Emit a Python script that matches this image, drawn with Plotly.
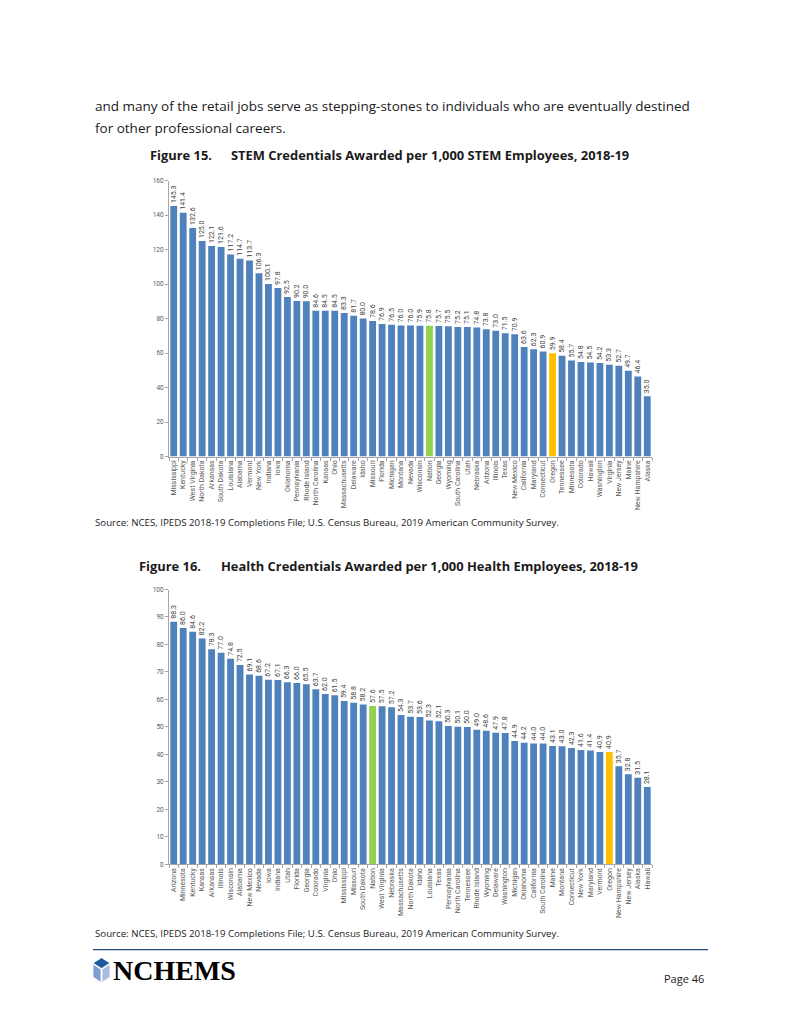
import plotly.graph_objects as go

W, H = 800, 1035
OFF = 8  # browser body margin
def px(x): return (x - OFF) / W
def py(y): return 1 - (y - OFF) / H

# ---------------- Data ----------------
stem_states = ["Mississippi", "Kentucky", "West Virginia", "North Dakota", "Arkansas", "South Dakota",
               "Louisiana", "Alabama", "Vermont", "New York", "Indiana", "Iowa", "Oklahoma",
               "Pennsylvania", "Rhode Island", "North Carolina", "Kansas", "Ohio", "Massachusetts",
               "Delaware", "Idaho", "Missouri", "Florida", "Michigan", "Montana", "Nevada",
               "Wisconsin", "Nation", "Georgia", "Wyoming", "South Carolina", "Utah", "Nebraska",
               "Arizona", "Illinois", "Texas", "New Mexico", "California", "Maryland", "Connecticut",
               "Oregon", "Tennessee", "Minnesota", "Colorado", "Hawaii", "Washington", "Virginia",
               "New Jersey", "Maine", "New Hampshire", "Alaska"]
stem_values = [145.3, 141.4, 132.6, 125.0, 122.1, 121.6, 117.2, 114.7, 113.7, 106.3, 100.1, 97.8, 92.5,
               90.2, 90.0, 84.6, 84.5, 84.5, 83.3, 81.7, 80.0, 78.6, 76.9, 76.5, 76.0, 76.0,
               75.9, 75.8, 75.7, 75.5, 75.2, 75.1, 74.8, 73.8, 73.0, 71.5, 70.9, 63.6, 62.3, 60.9,
               59.9, 58.4, 55.7, 54.8, 54.5, 54.2, 53.3, 52.7, 49.7, 46.4, 35.0]

health_states = ["Arizona", "Minnesota", "Kentucky", "Kansas", "Arkansas", "Illinois", "Wisconsin",
                 "Alabama", "New Mexico", "Nevada", "Iowa", "Indiana", "Utah", "Florida", "Georgia",
                 "Colorado", "Virginia", "Ohio", "Mississippi", "Missouri", "South Dakota", "Nation",
                 "West Virginia", "Nebraska", "Massachusetts", "North Dakota", "Idaho", "Louisiana",
                 "Texas", "Pennsylvania", "North Carolina", "Tennessee", "Rhode Island", "Wyoming",
                 "Delaware", "Washington", "Michigan", "Oklahoma", "California", "South Carolina",
                 "Maine", "Montana", "Connecticut", "New York", "Maryland", "Vermont", "Oregon",
                 "New Hampshire", "New Jersey", "Alaska", "Hawaii"]
health_values = [88.3, 86.0, 84.6, 82.2, 78.3, 77.0, 74.8, 72.5, 69.1, 68.6, 67.2, 67.1, 66.3, 66.0, 65.5,
                 63.7, 62.0, 61.5, 59.4, 58.8, 58.2, 57.6, 57.5, 57.2, 54.3, 53.7, 53.6, 52.3,
                 52.1, 50.3, 50.1, 50.0, 49.0, 48.6, 47.9, 47.8, 44.9, 44.2, 44.0, 44.0,
                 43.1, 43.0, 42.3, 41.6, 41.4, 40.9, 40.9, 35.7, 32.8, 31.5, 28.1]

stem_ticks = [0, 20, 40, 60, 80, 100, 120, 140, 160]
health_ticks = [0, 10, 20, 30, 40, 50, 60, 70, 80, 90, 100]

BLUE, GREEN, ORANGE = "#4F81BD", "#92D050", "#FFC000"
def colors(states):
    return [GREEN if s == "Nation" else ORANGE if s == "Oregon" else BLUE for s in states]

CHART_FONT = "Liberation Sans Narrow, Roboto, sans-serif"
TEXT_FONT = "Open Sans, Noto Sans, sans-serif"

fig = go.Figure()
for states, values, xa, ya in [(stem_states, stem_values, "x", "y"),
                               (health_states, health_values, "x2", "y2")]:
    fig.add_trace(go.Bar(
        x=states, y=values, xaxis=xa, yaxis=ya,
        marker=dict(color=colors(states), line=dict(width=0)),
        text=[f"{v:.1f}" for v in values], textposition="outside", textangle=-90,
        constraintext="none", cliponaxis=False,
        textfont=dict(size=7, color="#404040", family=CHART_FONT),
        hoverinfo="x+y", showlegend=False))

xcommon = dict(type="category", showline=True, linecolor="#A6A6A6", linewidth=1,
               ticks="outside", tickson="boundaries", ticklen=3, tickcolor="#A6A6A6",
               tickangle=-90, tickfont=dict(size=7, color="#595959", family=CHART_FONT),
               showgrid=False, domain=[px(169), px(652)], range=[-0.5, 50.5], fixedrange=True)
ycommon = dict(showline=True, linecolor="#A6A6A6", linewidth=1, ticks="outside", ticklen=3,
               tickcolor="#A6A6A6", showgrid=False, zeroline=False,
               tickfont=dict(size=6.5, color="#595959", family=CHART_FONT), fixedrange=True)

fig.update_layout(
    width=W, height=H, autosize=False, margin=dict(l=0, r=0, t=0, b=0),
    paper_bgcolor="white", plot_bgcolor="white", bargap=0.28,
    xaxis=dict(**xcommon, anchor="y"),
    yaxis=dict(**ycommon, anchor="x", domain=[py(456), py(178)], range=[0, 160],
               tickvals=stem_ticks),
    xaxis2=dict(**xcommon, anchor="y2"),
    yaxis2=dict(**ycommon, anchor="x2", domain=[py(867), py(590)], range=[0, 100],
                tickvals=health_ticks),
)

def note(text, x, y, size, bold=False, anchor="left", family=TEXT_FONT, color="#1a1a1a"):
    fig.add_annotation(text=f"<b>{text}</b>" if bold else text, x=px(x), y=py(y),
                       xref="paper", yref="paper", xanchor=anchor, yanchor="middle",
                       showarrow=False, font=dict(size=size, family=family, color=color))

note("and many of the retail jobs serve as stepping-stones to individuals who are eventually destined",
     93, 103, 13.5)
note("for other professional careers.", 93, 125, 13.5)
note("Figure 15.", 148, 152, 12.9, bold=True)
note("STEM Credentials Awarded per 1,000 STEM Employees, 2018-19", 229, 152, 12.9, bold=True)
src = "Source: NCES, IPEDS 2018-19 Completions File; U.S. Census Bureau, 2019 American Community Survey."
note(src, 93, 522, 9.7)
note("Figure 16.", 137, 566, 12.9, bold=True)
note("Health Credentials Awarded per 1,000 Health Employees, 2018-19", 219, 566, 12.9, bold=True)
note(src, 93, 937, 9.7)
note("Page 46", 706, 982, 11, anchor="right")
note("NCHEMS", 111, 974, 28, bold=True, family="Liberation Serif, serif", color="#000000")

# footer rule
fig.add_shape(type="line", xref="paper", yref="paper", x0=px(93), x1=px(708), y0=py(953), y1=py(953),
              line=dict(color="#1F497D", width=1.3))

# logo cube
def poly(pts, color):
    d = "M " + " L ".join(f"{px(a):.5f} {py(b):.5f}" for a, b in pts) + " Z"
    fig.add_shape(type="path", path=d, xref="paper", yref="paper", fillcolor=color,
                  line=dict(color="white", width=0.8))
poly([(101.5, 961), (110, 966.5), (101.5, 972), (93, 966.5)], "#1F5A9E")
poly([(93, 967.5), (101, 972.8), (101, 986), (93, 980.5)], "#7C9FD0")
poly([(102, 972.8), (110, 967.5), (110, 980.5), (102, 986)], "#A9BCDD")

fig.write_html("out.html")
